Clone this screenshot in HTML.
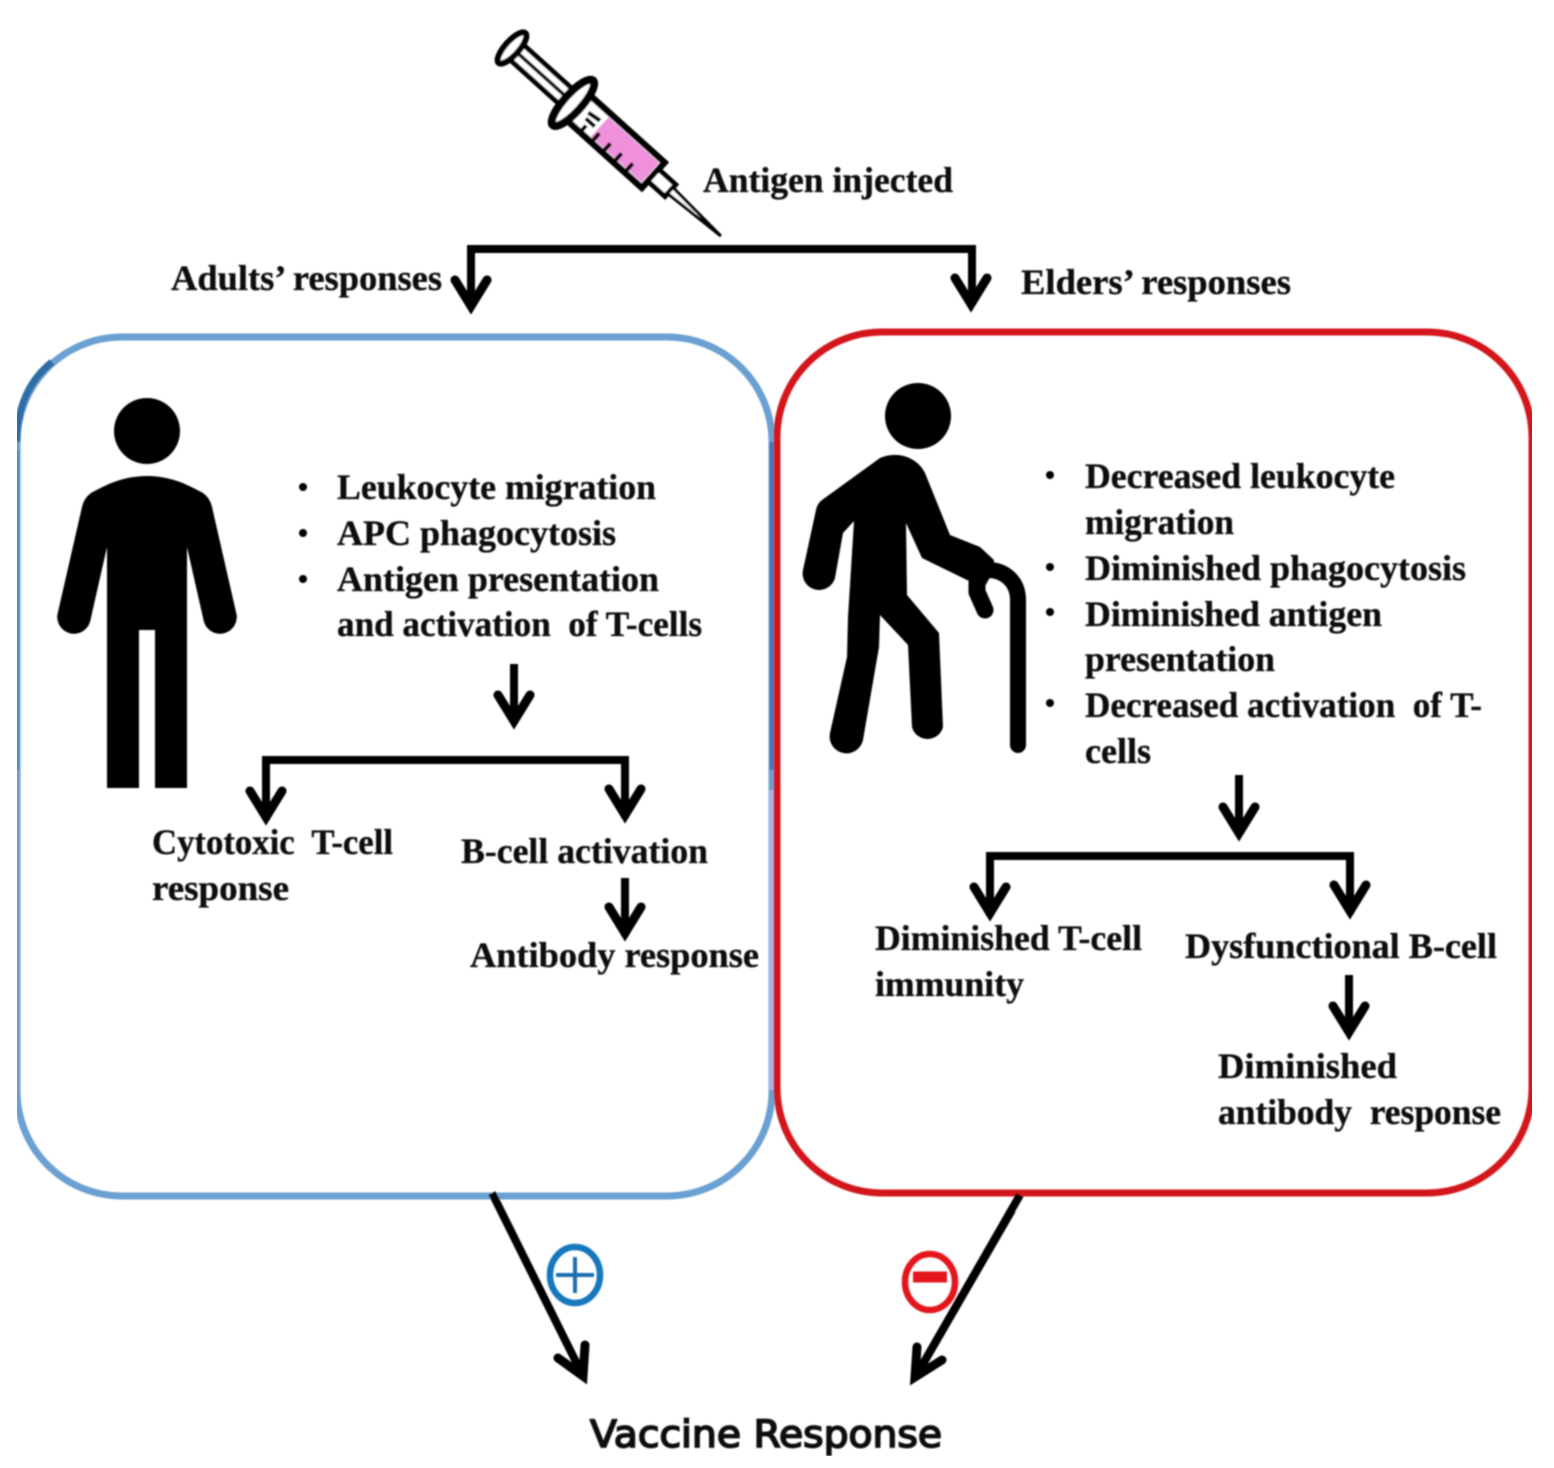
<!DOCTYPE html>
<html><head><meta charset="utf-8"><style>
html,body{margin:0;padding:0;background:#fff}
svg{display:block}
text{font-family:"Liberation Serif",serif;font-weight:bold;font-size:36px;fill:#111;stroke:#111;stroke-width:.35px}
</style></head><body>
<svg xmlns="http://www.w3.org/2000/svg" width="1554" height="1468" viewBox="0 0 1554 1468">
<defs>
<filter id="b" x="0" y="0" width="100%" height="100%"><feGaussianBlur stdDeviation="0.85"/></filter>
<path id="h" d="M-16,-35 L0,-9 L16,-35" fill="none" stroke="#000" stroke-width="9" stroke-linecap="round" stroke-linejoin="miter" stroke-miterlimit="8"/>
</defs>
<rect width="1554" height="1468" fill="#fff"/>
<g filter="url(#b)">
<!-- boxes -->
<rect x="17" y="337" width="755" height="859" rx="105" ry="105" fill="none" stroke="#6ba0d2" stroke-width="7"/>
<path d="M17,442 Q17,390 52,362" fill="none" stroke="#2f6ea6" stroke-width="7"/>
<path d="M772,442 V770" fill="none" stroke="#3f78b0" stroke-width="5"/>
<path d="M772,790 V1090" fill="none" stroke="#a9b6e6" stroke-width="6"/>
<path d="M17,450 V770" fill="none" stroke="#4f8bc2" stroke-width="5"/>
<rect x="777" y="332" width="755" height="861" rx="105" ry="105" fill="none" stroke="#d3151d" stroke-width="7"/>
<!-- syringe -->
<g transform="translate(512,48) rotate(42)" stroke="#000" fill="#fff">
<rect x="5" y="-10" width="76" height="20" stroke-width="5"/>
<line x1="5" y1="0" x2="80" y2="0" stroke-width="3.5"/>
<rect x="88" y="-17" width="102" height="34" stroke-width="6.5"/>
<rect x="118" y="-13" width="68" height="26" fill="#f090dc" stroke="none"/>
<ellipse cx="0" cy="0" rx="7" ry="20" stroke-width="6"/>
<ellipse cx="82" cy="0" rx="9" ry="30" stroke-width="8"/>
<path d="M100,-3 L114,-5 M102,3 L114,3 M107,17 V8 M122,17 V5 M137,17 V5 M152,17 V5 M167,17 V5" stroke-width="4" fill="none"/>
<rect x="190" y="-8" width="23" height="16" stroke-width="5"/>
<path d="M213,-4 L281,0 L213,4 Z" stroke-width="3"/>
</g>
<!-- adult -->
<circle cx="147" cy="431" r="33" fill="#000"/>
<path d="M147,476 C172,476 190,486 203,493 Q210,498 212,507 L236,612 A16.5,16.5 0 0 1 204,622 L187,547 V788 H155 V630 H139 V788 H107 V547 L90,622 A16.5,16.5 0 0 1 58,612 L82,507 Q84,498 91,493 C104,486 122,476 147,476 Z" fill="#000"/>
<!-- elder -->
<circle cx="918" cy="416" r="33" fill="#000"/>
<path d="M880,458 L822,500 Q817,504 816,510 L803,570 A16.5,16.5 0 0 0 835,578 L843,533 L854,521 L848,617 L847,657 L830,733 A16.5,16.5 0 0 0 863,740 L879,647 L880,615 L908,645 L912,727 A16,16 0 0 0 943,727 L939,633 L907,595 L906,523 L922,558 L967,580 L985,586 L993,572 L994,560 L980,547 L950,535 L925,473 C918,458 898,450 880,458 Z" fill="#000"/>
<path d="M977,580 L977,592 L985,610" fill="none" stroke="#000" stroke-width="17" stroke-linecap="round" stroke-linejoin="round"/>
<path d="M1018,745 V600 C1018,582 1005,570 988,570" fill="none" stroke="#000" stroke-width="16" stroke-linecap="round"/>
<!-- bullets -->
<g fill="#000"><circle cx="303" cy="487" r="4"/><circle cx="303" cy="533" r="4"/><circle cx="303" cy="579" r="4"/>
<circle cx="1050" cy="475" r="4"/><circle cx="1050" cy="567" r="4"/><circle cx="1050" cy="612" r="4"/><circle cx="1050" cy="703" r="4"/></g>
<!-- connectors -->
<g fill="none" stroke="#000" stroke-width="8">
<path d="M471,305 V249 H972 V305"/>
<path d="M514,664 V722"/>
<path d="M266,820 V760 H625 V818"/>
<path d="M625,878 V936"/>
<path d="M1239,775 V834"/>
<path d="M990,916 V856 H1350 V914"/>
<path d="M1349,975 V1033"/>
<path d="M492,1193 L582,1374"/>
<path d="M1020,1195 L916,1376"/>
</g>
<use href="#h" x="471" y="315"/><use href="#h" x="971" y="313"/>
<use href="#h" x="514" y="730"/>
<use href="#h" x="266" y="826"/><use href="#h" x="625" y="824"/>
<use href="#h" x="625" y="942"/>
<use href="#h" x="1239" y="842"/>
<use href="#h" x="990" y="922"/><use href="#h" x="1350" y="920"/>
<use href="#h" x="1349" y="1041"/>
<path d="M558,1358 L583,1376 L585,1345" fill="none" stroke="#000" stroke-width="9" stroke-linecap="round"/>
<path d="M917,1347 L915,1377 L942,1360" fill="none" stroke="#000" stroke-width="9" stroke-linecap="round"/>
<!-- signs -->
<ellipse cx="575" cy="1275" rx="25" ry="28" fill="none" stroke="#1878bd" stroke-width="6.5"/>
<path d="M556,1275 H594 M575,1257 V1293" stroke="#1a70b0" stroke-width="4" fill="none"/>
<ellipse cx="930" cy="1282" rx="25" ry="28" fill="none" stroke="#e3141c" stroke-width="6.5"/>
<path d="M913,1277 H947" stroke="#e3141c" stroke-width="11" fill="none"/>
<path d="M1012,1210 L916,1376" stroke="#000" stroke-width="8" fill="none"/>
<!-- labels -->
<text x="703" y="192" textLength="250" lengthAdjust="spacingAndGlyphs">Antigen injected</text>
<text x="171" y="290" textLength="271" lengthAdjust="spacingAndGlyphs">Adults’ responses</text>
<text x="1021" y="294" textLength="270" lengthAdjust="spacingAndGlyphs">Elders’ responses</text>
<text x="337" y="499" textLength="319" lengthAdjust="spacingAndGlyphs">Leukocyte migration</text>
<text x="337" y="545" textLength="279" lengthAdjust="spacingAndGlyphs">APC phagocytosis</text>
<text x="337" y="591" textLength="322" lengthAdjust="spacingAndGlyphs">Antigen presentation</text>
<text x="337" y="636" textLength="365" lengthAdjust="spacingAndGlyphs">and activation&#160; of T-cells</text>
<text x="152" y="854" textLength="241" lengthAdjust="spacingAndGlyphs">Cytotoxic&#160; T-cell</text>
<text x="152" y="900" textLength="137" lengthAdjust="spacingAndGlyphs">response</text>
<text x="461" y="863" textLength="247" lengthAdjust="spacingAndGlyphs">B-cell activation</text>
<text x="470" y="967" textLength="289" lengthAdjust="spacingAndGlyphs">Antibody response</text>
<text x="1085" y="488" textLength="310" lengthAdjust="spacingAndGlyphs">Decreased leukocyte</text>
<text x="1085" y="534" textLength="149" lengthAdjust="spacingAndGlyphs">migration</text>
<text x="1085" y="580" textLength="381" lengthAdjust="spacingAndGlyphs">Diminished phagocytosis</text>
<text x="1085" y="626" textLength="297" lengthAdjust="spacingAndGlyphs">Diminished antigen</text>
<text x="1085" y="671" textLength="190" lengthAdjust="spacingAndGlyphs">presentation</text>
<text x="1085" y="717" textLength="397" lengthAdjust="spacingAndGlyphs">Decreased activation&#160; of T-</text>
<text x="1085" y="763" textLength="66" lengthAdjust="spacingAndGlyphs">cells</text>
<text x="875" y="950" textLength="267" lengthAdjust="spacingAndGlyphs">Diminished T-cell</text>
<text x="875" y="996" textLength="149" lengthAdjust="spacingAndGlyphs">immunity</text>
<text x="1185" y="958" textLength="312" lengthAdjust="spacingAndGlyphs">Dysfunctional B-cell</text>
<text x="1218" y="1078" textLength="179" lengthAdjust="spacingAndGlyphs">Diminished</text>
<text x="1218" y="1124" textLength="283" lengthAdjust="spacingAndGlyphs">antibody&#160; response</text>
<text x="590" y="1447" textLength="352" lengthAdjust="spacingAndGlyphs" style="font-family:'DejaVu Sans',sans-serif;font-size:37px;font-weight:normal;stroke-width:1.7px">Vaccine Response</text>
</g>
</svg>
</body></html>
